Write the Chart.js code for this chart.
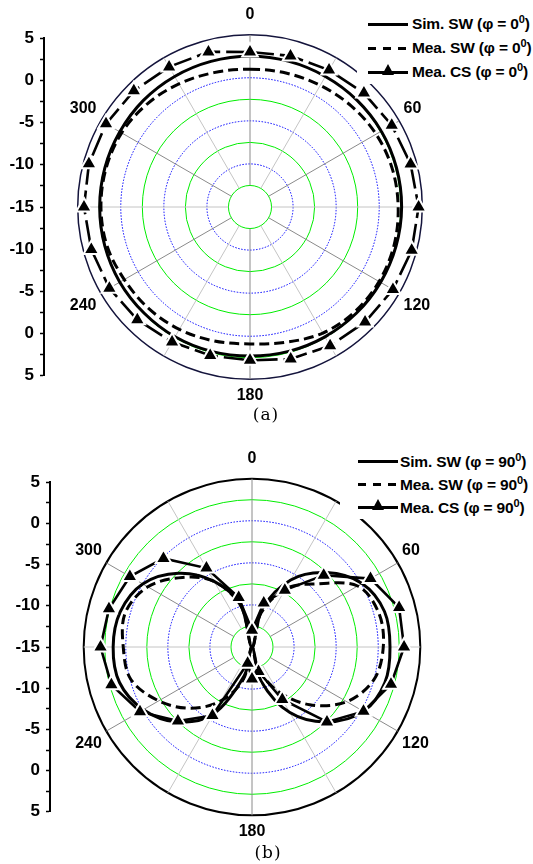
<!DOCTYPE html>
<html>
<head>
<meta charset="utf-8">
<script src="https://cdn.jsdelivr.net/npm/chart.js@4.4.1/dist/chart.umd.min.js"></script>
<style>
  html, body { margin: 0; padding: 0; width: 533px; height: 864px; overflow: hidden; background: #fff; }
  canvas { position: absolute; }
  .legend { position: absolute; background: #fff; color: #000; white-space: nowrap;
            font: bold 15.5px "Liberation Sans", Arial, sans-serif; letter-spacing: -0.15px; }
  .legend .row { position: relative; }
  .legend .smp { position: absolute; top: 50%; height: 3px; margin-top: -1.5px; background: #000; }
  .legend .smp.dash { background: repeating-linear-gradient(90deg, #000 0 8px, transparent 8px 15px); }
  .legend .tri { position: absolute; left: 50%; top: -7px; margin-left: -6px; width: 0; height: 0;
                 border-left: 6px solid transparent; border-right: 6px solid transparent; border-bottom: 11px solid #000; }
  .legend .txt { position: absolute; top: 50%; transform: translateY(-50%); }
  .legend sup { font-size: 11px; vertical-align: 6px; line-height: 0; }
  .tag { position: absolute; font: 17px "DejaVu Serif", serif; letter-spacing: 1px; transform: translateX(-50%); }
</style>
</head>
<body>
<canvas id="polarA" width="500" height="405" style="left:0;top:3px"></canvas>
<canvas id="axisA" width="60" height="370" style="left:0;top:22px"></canvas>
<canvas id="polarB" width="504" height="397" style="left:0;top:447px"></canvas>
<canvas id="axisB" width="66" height="362" style="left:0;top:466px"></canvas>
<div class="legend" id="legendA" style="left:357px;top:12px;width:176px"></div>
<div class="legend" id="legendB" style="left:340px;top:450px;width:193px"></div>
<div class="tag" style="left:266px;top:404px">(a)</div>
<div class="tag" style="left:268px;top:842px">(b)</div>

<script>
// --- Data (dB), every 15 degrees ---
const ANGLES = [0, 15, 30, 45, 60, 75, 90, 105, 120, 135, 150, 165,
                180, 195, 210, 225, 240, 255, 270, 285, 300, 315, 330, 345];
const ANGLE_TICKS = [0, 60, 120, 180, 240, 300];
const SIDE_TICKS = [5, 0, -5, -10, -15, -10, -5, 0, 5];
const R_MIN = -15;
const R_MAX = 5;
const R_STEP = 2.5;

const SERIES_NAMES = ['Sim. SW', 'Mea. SW', 'Mea. CS'];

// (a) phi = 0
const SIM_SW_0 = [2.5, 2.5, 2.5, 2.55, 2.6, 2.6, 2.6, 2.55, 2.5, 2.45, 2.4, 2.35,
                  2.3, 2.35, 2.4, 2.4, 2.45, 2.45, 2.45, 2.45, 2.45, 2.5, 2.5, 2.5];
const MEA_SW_0 = [1.0, 1.1, 1.3, 1.6, 1.9, 2.1, 2.2, 2.3, 2.3, 2.2, 1.9, 1.25,
                  0.9, 1.1, 1.4, 1.65, 1.85, 2.2, 2.3, 2.3, 2.2, 1.9, 1.5, 1.15];
const MEA_CS_0 = [3.0, 3.16, 3.35, 3.7, 4.0, 4.3, 4.57, 4.43, 4.16, 3.89, 3.6, 3.26,
                  2.8, 2.85, 3.09, 3.5, 3.85, 4.07, 4.27, 4.36, 4.3, 4.07, 3.78, 3.64];

// (b) phi = 90
const SIM_SW_90 = [-15, -10.3, -5.8, -2.5, 0.1, 1.3, 1.4, 1.35, 0.3, -2.4, -6.0, -10.8,
                   -15, -11.5, -5.8, -2.4, -0.1, 1.3, 1.5, 1.2, 0.0, -2.6, -6.0, -9.9];
const MEA_SW_90 = [-15, -10.8, -7.0, -4.4, -0.5, 0.6, 0.6, 0.0, -2.0, -5.3, -9.0, -12.5,
                   -15, -11.0, -7.6, -4.7, -2.2, -0.1, 0.3, 0.6, -0.7, -3.3, -6.0, -10.0];
const MEA_CS_90 = [-13, -9.6, -7.2, -2.95, 1.26, 3.1, 3.07, 2.1, 0.3, -2.4, -7.8, -12,
                   -11.2, -13, -5.6, -2.55, 0.37, 2.3, 3.0, 2.6, 1.76, -0.12, -4.17, -8.9];

const FONT = '"Liberation Sans", Arial, sans-serif';
const GREEN = '#00ee00';
const BLUE = '#0000ff';

function ringColor(value, outerColor) {
    if (value >= R_MAX) return outerColor;
    if (value <= R_MIN) return 'rgba(0,0,0,0)';
    return (value - R_MIN) % 5 === 0 ? BLUE : GREEN;
}

function makePolar(id, sim, meaSw, meaCs, look) {
    return new Chart(document.getElementById(id), {
        type: 'radar',
        data: {
            labels: ANGLES.map(String),
            datasets: [
                {
                    label: SERIES_NAMES[2], data: meaCs, fill: false, tension: 0,
                    borderColor: '#000', borderWidth: 2.6, borderDash: look.csDash,
                    pointStyle: 'triangle', pointRadius: 9, pointHoverRadius: 9,
                    pointBackgroundColor: '#000', pointBorderColor: '#fff', pointBorderWidth: 2
                },
                {
                    label: SERIES_NAMES[1], data: meaSw, fill: false, tension: 0.34,
                    borderColor: '#000', borderWidth: 3, borderDash: [10, 5], pointRadius: 0
                },
                {
                    label: SERIES_NAMES[0], data: sim, fill: false, tension: 0.34,
                    borderColor: '#000', borderWidth: 3, pointRadius: 0
                }
            ]
        },
        options: {
            responsive: false, animation: false, events: [],
            plugins: { legend: { display: false }, tooltip: { enabled: false } },
            scales: {
                r: {
                    min: R_MIN, max: R_MAX, startAngle: 0,
                    ticks: { display: false, stepSize: R_STEP },
                    grid: {
                        circular: true,
                        color: ctx => ringColor(ctx.tick.value, look.outer),
                        lineWidth: ctx => ctx.tick.value >= R_MAX ? look.outerWidth : 1
                    },
                    border: {
                        dash: ctx => (ctx.tick.value < R_MAX && (ctx.tick.value - R_MIN) % 5 === 0) ? [1.5, 1.5] : []
                    },
                    angleLines: {
                        color: ctx => ANGLE_TICKS.includes(ANGLES[ctx.index]) ? '#8a8a8a' : '#c4c4c4',
                        lineWidth: ctx => ANGLES[ctx.index] % 30 === 0 ? 1 : 0,
                        // spokes start at the innermost ring, like the original
                        borderDash: ctx => [0, ctx.chart.scales.r.getDistanceFromCenterForValue(R_MIN + R_STEP), 1000]
                    },
                    pointLabels: {
                        display: true, color: '#000',
                        font: { family: FONT, size: 16, weight: 'bold' },
                        padding: ctx => ctx.index === 0 ? 10.5 : (ANGLES[ctx.index] === 180 ? 6.5 : 5),
                        callback: (label) => ANGLE_TICKS.includes(Number(label)) ? label : []
                    }
                }
            }
        }
    });
}

function makeSideAxis(id, axisX) {
    return new Chart(document.getElementById(id), {
        type: 'line',
        data: { labels: [], datasets: [] },
        options: {
            responsive: false, animation: false, events: [],
            layout: { padding: { top: 12.7, bottom: 12.7, left: 0, right: 0 } },
            plugins: { legend: { display: false }, tooltip: { enabled: false } },
            scales: {
                x: { display: false },
                y: {
                    min: -20, max: 20,
                    afterFit: scale => { scale.width = axisX; },
                    border: { display: true, color: '#000', width: 2 },
                    grid: { drawOnChartArea: false, drawTicks: true, tickLength: 4, tickColor: '#000', tickWidth: 1.5 },
                    ticks: {
                        stepSize: R_STEP, autoSkip: false, maxRotation: 0, padding: 6, color: '#000',
                        font: { family: FONT, size: 17, weight: 'bold' },
                        callback: (value, index) => index % 2 === 0 ? String(SIDE_TICKS[index / 2]) : ''
                    }
                }
            }
        }
    });
}

function buildLegend(id, phi, lineLeft, textLeft, rowH) {
    const box = document.getElementById(id);
    const kinds = ['solid', 'dash', 'tri'];
    SERIES_NAMES.forEach((name, i) => {
        const row = document.createElement('div');
        row.className = 'row';
        row.style.height = rowH + 'px';
        const smp = document.createElement('span');
        smp.className = 'smp' + (kinds[i] === 'dash' ? ' dash' : '');
        smp.style.left = lineLeft + 'px';
        smp.style.width = '40px';
        if (kinds[i] === 'tri') {
            const t = document.createElement('span');
            t.className = 'tri';
            smp.appendChild(t);
        }
        const txt = document.createElement('span');
        txt.className = 'txt';
        txt.style.left = textLeft + 'px';
        txt.innerHTML = `${name} (&phi; = ${phi}<sup>0</sup>)`;
        row.appendChild(smp);
        row.appendChild(txt);
        box.appendChild(row);
    });
}

makePolar('polarA', SIM_SW_0, MEA_SW_0, MEA_CS_0, { outer: '#14143c', outerWidth: 1.5, csDash: [24, 6] });
makePolar('polarB', SIM_SW_90, MEA_SW_90, MEA_CS_90, { outer: '#000', outerWidth: 2, csDash: [] });
makeSideAxis('axisA', 44);
makeSideAxis('axisB', 50);
buildLegend('legendA', 0, 11, 55, 24);
buildLegend('legendB', 90, 18, 60, 23);
</script>
</body>
</html>
